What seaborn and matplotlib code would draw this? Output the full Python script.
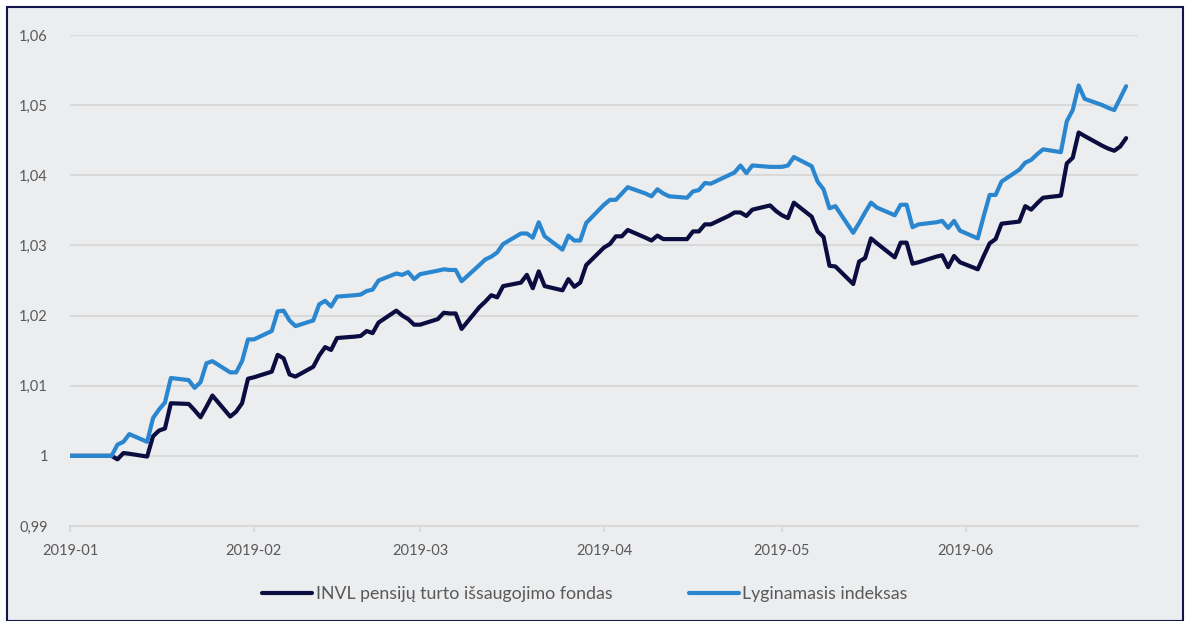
import pandas as pd
import matplotlib.pyplot as plt
import matplotlib.dates as mdates
from matplotlib.ticker import FuncFormatter
from matplotlib.patches import Rectangle
import seaborn as sns

fund_label = 'INVL pensijų turto išsaugojimo fondas'
index_label = 'Lyginamasis indeksas'

# trading days: Jan 1, then Jan 8 .. Jun 28
dates = [pd.Timestamp('2019-01-01')] + list(pd.bdate_range('2019-01-08', '2019-06-28'))

fund = [
    1.0000,
    1.0000, 0.9995, 1.0004, 1.0003,
    0.9999, 1.0028, 1.0036, 1.0039, 1.0075,
    1.0074, 1.0065, 1.0055, 1.0070, 1.0086,
    1.0056, 1.0063, 1.0075, 1.0110, 1.0112,
    1.0120, 1.0144, 1.0139, 1.0116, 1.0113,
    1.0127, 1.0143, 1.0155, 1.0151, 1.0168,
    1.0170, 1.0171, 1.0178, 1.0175, 1.0190,
    1.0207, 1.0200, 1.0195, 1.0187, 1.0187,
    1.0195, 1.0204, 1.0203, 1.0203, 1.0181,
    1.0212, 1.0220, 1.0229, 1.0226, 1.0242,
    1.0247, 1.0258, 1.0239, 1.0263, 1.0242,
    1.0236, 1.0252, 1.0241, 1.0247, 1.0272,
    1.0297, 1.0302, 1.0313, 1.0313, 1.0322,
    1.0311, 1.0307, 1.0314, 1.0309, 1.0309,
    1.0309, 1.0320, 1.0320, 1.0330, 1.0330,
    1.0342, 1.0347, 1.0347, 1.0342, 1.0351,
    1.0357, 1.0349, 1.0343, 1.0339, 1.0361,
    1.0341, 1.0320, 1.0312, 1.0271, 1.0270,
    1.0245, 1.0277, 1.0282, 1.0310, 1.0303,
    1.0283, 1.0304, 1.0304, 1.0274, 1.0276,
    1.0284, 1.0286, 1.0269, 1.0285, 1.0276,
    1.0266, 1.0285, 1.0303, 1.0309, 1.0331,
    1.0334, 1.0356, 1.0351, 1.0360, 1.0368,
    1.0371, 1.0417, 1.0425, 1.0461, 1.0456,
    1.0442, 1.0438, 1.0435, 1.0441, 1.0453,
]

benchmark = [
    1.0000,
    1.0000, 1.0016, 1.0020, 1.0031,
    1.0020, 1.0054, 1.0066, 1.0076, 1.0111,
    1.0108, 1.0097, 1.0105, 1.0132, 1.0135,
    1.0119, 1.0119, 1.0135, 1.0166, 1.0166,
    1.0178, 1.0206, 1.0207, 1.0193, 1.0185,
    1.0193, 1.0216, 1.0221, 1.0213, 1.0227,
    1.0229, 1.0230, 1.0235, 1.0237, 1.0250,
    1.0260, 1.0258, 1.0262, 1.0252, 1.0259,
    1.0264, 1.0266, 1.0265, 1.0265, 1.0249,
    1.0272, 1.0280, 1.0284, 1.0290, 1.0302,
    1.0317, 1.0317, 1.0311, 1.0333, 1.0313,
    1.0294, 1.0314, 1.0307, 1.0307, 1.0332,
    1.0358, 1.0365, 1.0365, 1.0374, 1.0383,
    1.0374, 1.0370, 1.0380, 1.0374, 1.0370,
    1.0368, 1.0377, 1.0379, 1.0389, 1.0388,
    1.0400, 1.0404, 1.0414, 1.0403, 1.0414,
    1.0412, 1.0412, 1.0412, 1.0414, 1.0426,
    1.0413, 1.0391, 1.0380, 1.0353, 1.0356,
    1.0318, 1.0332, 1.0347, 1.0361, 1.0354,
    1.0343, 1.0358, 1.0358, 1.0326, 1.0330,
    1.0333, 1.0335, 1.0325, 1.0335, 1.0321,
    1.0310, 1.0342, 1.0372, 1.0372, 1.0391,
    1.0408, 1.0418, 1.0422, 1.0430, 1.0437,
    1.0433, 1.0477, 1.0493, 1.0528, 1.0509,
    1.0500, 1.0496, 1.0493, 1.0510, 1.0527,
]

y_ticks = [0.99, 1.00, 1.01, 1.02, 1.03, 1.04, 1.05, 1.06]

df = pd.DataFrame({'Date': dates, fund_label: fund, index_label: benchmark})
long = df.melt(id_vars='Date', var_name='Serija', value_name='Vertė')

bg = '#ecedef'
text_col = '#595959'
grid_col = '#d9d9d9'

sns.set_theme(style='white')
plt.rcParams['font.family'] = ['Lato', 'DejaVu Sans']

fig = plt.figure(figsize=(11.9, 6.21), dpi=100, facecolor='white')
fig.patches.append(Rectangle((7 / 1190, 0), 1176 / 1190, 1 - 7 / 621,
                             transform=fig.transFigure, facecolor=bg,
                             edgecolor='#14154a', linewidth=1.5, zorder=-5))

ax = fig.add_axes([70 / 1190, 1 - 526 / 621, 1068 / 1190, 491 / 621])
ax.set_facecolor('none')

sns.lineplot(data=long, x='Date', y='Vertė', hue='Serija', ax=ax,
             palette=['#0b0c40', '#2a87cf'], linewidth=3.0)

ax.set_xlim(pd.Timestamp('2019-01-01'), pd.Timestamp('2019-06-30'))
ax.set_ylim(0.99, 1.06)
ax.set_yticks(y_ticks)
ax.yaxis.set_major_formatter(FuncFormatter(lambda v, p: ('%g' % round(v, 2)).replace('.', ',')))
ax.xaxis.set_major_locator(mdates.MonthLocator())
ax.xaxis.set_major_formatter(mdates.DateFormatter('%Y-%m'))

ax.grid(axis='y', color=grid_col, linewidth=1.5)
ax.set_axisbelow(True)
for s in ['top', 'right', 'left']:
    ax.spines[s].set_visible(False)
ax.spines['bottom'].set_color(grid_col)
ax.spines['bottom'].set_linewidth(1.5)

ax.tick_params(axis='y', length=0, pad=16, labelsize=10.5, labelcolor=text_col)
ax.tick_params(axis='x', length=4, width=1.5, color=grid_col, pad=9,
               labelsize=10.5, labelcolor=text_col, bottom=True)
ax.set_xlabel('')
ax.set_ylabel('')

handles, labels = ax.get_legend_handles_labels()
ax.get_legend().remove()
fig.legend(handles, labels, loc='center', bbox_to_anchor=(585 / 1190, 1 - 594 / 621),
           ncol=2, frameon=False, fontsize=12.8, labelcolor=text_col,
           handlelength=2.8, handletextpad=0.2, columnspacing=4.3)

fig.savefig('out.png', dpi=100, facecolor='white')
